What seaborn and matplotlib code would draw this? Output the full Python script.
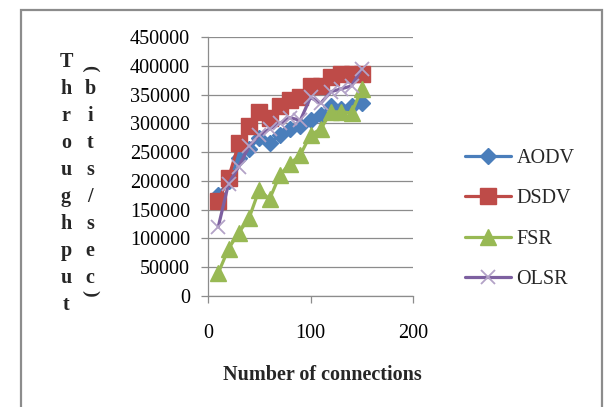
import matplotlib
matplotlib.use("Agg")
import matplotlib.pyplot as plt
import seaborn as sns
import pandas as pd
from matplotlib.patches import Rectangle

connections = [10, 20, 30, 40, 50, 60, 70, 80, 90, 100, 110, 120, 130, 140, 150]
aodv = [175000, 200000, 240000, 255000, 275000, 265000, 280000, 290000, 295000, 305000, 315000, 330000, 325000, 330000, 335000]
dsdv = [165000, 205000, 265000, 295000, 320000, 310000, 330000, 340000, 345000, 365000, 365000, 380000, 385000, 385000, 385000]
fsr = [40000, 82000, 110000, 135000, 185000, 168000, 210000, 230000, 245000, 280000, 290000, 320000, 320000, 318000, 360000]
olsr = [120000, 195000, 225000, 260000, 280000, 290000, 300000, 310000, 305000, 345000, 335000, 355000, 360000, 365000, 395000]

series_names = ["AODV", "DSDV", "FSR", "OLSR"]
y_ticks = [0, 50000, 100000, 150000, 200000, 250000, 300000, 350000, 400000, 450000]
x_ticks = [0, 100, 200]

sns.set_style("white")
plt.rcParams["font.family"] = ["Liberation Serif", "DejaVu Serif"]

fig = plt.figure(figsize=(6.05, 4.07), dpi=100)
ax = fig.add_axes([208 / 605, 111 / 407, 205 / 605, 259 / 407])

styles = {
    "AODV": dict(color="#4A7EBB", marker="D", markersize=8.5, mec="#4A7EBB", mfc="#4A7EBB", mew=1),
    "DSDV": dict(color="#BE4B48", marker="s", markersize=11, mec="#BE4B48", mfc="#BE4B48", mew=1),
    "FSR": dict(color="#98B954", marker="^", markersize=12, mec="#98B954", mfc="#98B954", mew=1),
    "OLSR": dict(color="#7D60A0", marker="x", markersize=10, mec="#B3A2C7", mfc="#B3A2C7", mew=1.3),
}
values = {"AODV": aodv, "DSDV": dsdv, "FSR": fsr, "OLSR": olsr}

for name in series_names:
    df = pd.DataFrame({"x": connections, "y": values[name]})
    st = styles[name]
    sns.lineplot(data=df, x="x", y="y", ax=ax, color=st["color"], marker=st["marker"],
                 markersize=st["markersize"], markeredgecolor=st["mec"],
                 markerfacecolor=st["mfc"], markeredgewidth=st["mew"],
                 linewidth=2.3, label=name, zorder=3)

ax.set_xlim(0, 200)
ax.set_ylim(0, 450000)
ax.set_xticks(x_ticks)
ax.set_yticks(y_ticks)
ax.set_xticklabels([str(v) for v in x_ticks])
ax.set_yticklabels([str(v) for v in y_ticks])
ax.yaxis.grid(True, color="#8C8C8C", linewidth=0.9)
ax.xaxis.grid(False)
for s in ["top", "right"]:
    ax.spines[s].set_visible(False)
for s in ["left", "bottom"]:
    ax.spines[s].set_color("#8C8C8C")
    ax.spines[s].set_linewidth(0.9)
ax.tick_params(axis="y", which="major", direction="out", length=5, width=0.9, color="#8C8C8C",
               pad=8, labelsize=14.5, labelcolor="black", left=True)
ax.tick_params(axis="x", which="major", direction="out", length=5, width=0.9, color="#8C8C8C",
               pad=15, labelsize=14.5, labelcolor="black", bottom=True)
ax.set_xlabel("")
ax.set_ylabel("")

fig.text(322 / 605, 1 - 375 / 407, "Number of connections", ha="center", va="center",
         fontsize=14.5, fontweight="bold")

col1 = "Throughput"
col2 = "bits/sec"
row_y = [61.7 + 27.05 * i for i in range(10)]
for ch, yy in zip(col1, row_y):
    fig.text(66 / 605, 1 - yy / 407, ch, ha="center", va="center", fontsize=14.5, fontweight="bold")
for ch, yy in zip(col2, row_y[1:9]):
    fig.text(90 / 605, 1 - yy / 407, ch, ha="center", va="center", fontsize=14.5, fontweight="bold")
fig.text(90 / 605, 1 - 68 / 407, "(", ha="center", va="center", fontsize=14, fontweight="bold", rotation=-90)
fig.text(90 / 605, 1 - 293 / 407, ")", ha="center", va="center", fontsize=14, fontweight="bold", rotation=-90)

leg = ax.legend(loc="upper left", bbox_to_anchor=(465 / 605, 1 - 149 / 407),
                bbox_transform=fig.transFigure, frameon=False, fontsize=14.5,
                handlelength=2.3, handletextpad=0.25, labelspacing=1.05, borderaxespad=0, borderpad=0)

fig.patches.append(Rectangle((21 / 605, -0.1), 581 / 605, 1.1 - 10 / 407, transform=fig.transFigure,
                             fill=False, edgecolor="#8C8C8C", linewidth=1.6))

fig.savefig("out.png", dpi=100, facecolor="white")
